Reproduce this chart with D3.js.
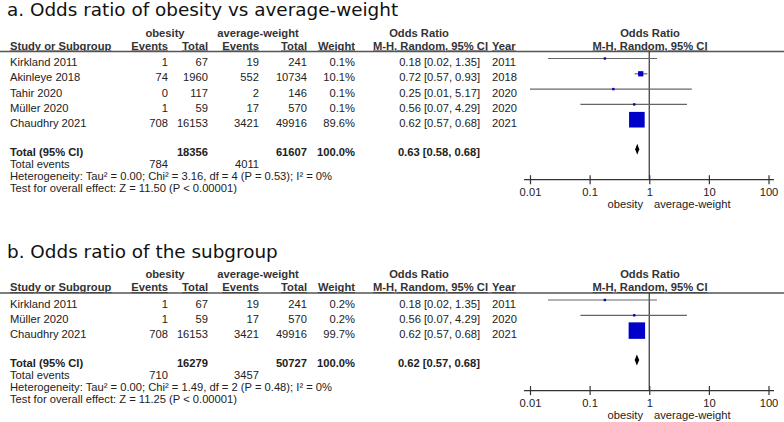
<!DOCTYPE html>
<html>
<head>
<meta charset="utf-8">
<script src="https://cdn.jsdelivr.net/npm/d3@7"></script>
<style>
  body { margin: 0; background: #fff; }
  svg text { font-family: "Liberation Sans", Arial, sans-serif; font-size: 11.2px; fill: #222; }
  .title { font-family: "DejaVu Sans", sans-serif; font-size: 18.4px; fill: #111; }
  .hd { font-weight: bold; fill: #333; }
  .bold { font-weight: bold; }
</style>
</head>
<body>
<div id="chart"></div>
<script>
// ---- panel a data ----
var studiesA = ["Kirkland 2011", "Akinleye 2018", "Tahir 2020", "Müller 2020", "Chaudhry 2021"];
var obEventsA = [1, 74, 0, 1, 708];
var obTotalA = [67, 1960, 117, 59, 16153];
var avEventsA = [19, 552, 2, 17, 3421];
var avTotalA = [241, 10734, 146, 570, 49916];
var weightA = [0.1, 10.1, 0.1, 0.1, 89.6];
var orA = [0.18, 0.72, 0.25, 0.56, 0.62];
var lowA = [0.02, 0.57, 0.01, 0.07, 0.57];
var highA = [1.35, 0.93, 5.17, 4.29, 0.68];
var yearA = [2011, 2018, 2020, 2020, 2021];
var totalA = {obTotal: 18356, avTotal: 61607, or: 0.63, low: 0.58, high: 0.68, obEvents: 784, avEvents: 4011,
  het: "Heterogeneity: Tau\u00b2 = 0.00; Chi\u00b2 = 3.16, df = 4 (P = 0.53); I\u00b2 = 0%",
  test: "Test for overall effect: Z = 11.50 (P < 0.00001)"};

// ---- panel b data ----
var studiesB = ["Kirkland 2011", "Müller 2020", "Chaudhry 2021"];
var obEventsB = [1, 1, 708];
var obTotalB = [67, 59, 16153];
var avEventsB = [19, 17, 3421];
var avTotalB = [241, 570, 49916];
var weightB = [0.2, 0.2, 99.7];
var orB = [0.18, 0.56, 0.62];
var lowB = [0.02, 0.07, 0.57];
var highB = [1.35, 4.29, 0.68];
var yearB = [2011, 2020, 2021];
var totalB = {obTotal: 16279, avTotal: 50727, or: 0.62, low: 0.57, high: 0.68, obEvents: 710, avEvents: 3457,
  het: "Heterogeneity: Tau\u00b2 = 0.00; Chi\u00b2 = 1.49, df = 2 (P = 0.48); I\u00b2 = 0%",
  test: "Test for overall effect: Z = 11.25 (P < 0.00001)"};

var tickVals = [0.01, 0.1, 1, 10, 100];
var tickLabels = ["0.01", "0.1", "1", "10", "100"];

var W = 784, H = 422;
var svg = d3.select("#chart").append("svg").attr("width", W).attr("height", H);

// log scale for the forest plot
var x = d3.scaleLog().domain([0.01, 100]).range([530, 768.5]);
var boxSize = d3.scaleSqrt().domain([0, 100]).range([0, 16.5]);

// column anchors (right aligned)
var col = {obEv: 168, obTot: 208, avEv: 259, avTot: 307, weight: 355, or: 480, year: 492};

function fmtW(w) { return w.toFixed(1) + "%"; }
function fmtCI(o, l, h) { return o.toFixed(2) + " [" + l.toFixed(2) + ", " + h.toFixed(2) + "]"; }

function drawPanel(top, title, rows, total) {
  var g = svg.append("g").attr("transform", "translate(0," + top + ")");

  g.append("text").attr("class", "title").attr("x", 7).attr("y", 16.3).text(title);

  // headers
  var h1 = 36.5, h2 = 49.5;
  g.append("text").attr("class", "hd").attr("x", 165).attr("y", h1).attr("text-anchor", "middle").text("obesity");
  g.append("text").attr("class", "hd").attr("x", 258).attr("y", h1).attr("text-anchor", "middle").text("average-weight");
  g.append("text").attr("class", "hd").attr("x", 419).attr("y", h1).attr("text-anchor", "middle").text("Odds Ratio");
  g.append("text").attr("class", "hd").attr("x", 650).attr("y", h1).attr("text-anchor", "middle").text("Odds Ratio");

  var heads = [
    {t: "Study or Subgroup", x: 10, a: "start"},
    {t: "Events", x: col.obEv, a: "end"},
    {t: "Total", x: col.obTot, a: "end"},
    {t: "Events", x: col.avEv, a: "end"},
    {t: "Total", x: col.avTot, a: "end"},
    {t: "Weight", x: col.weight, a: "end"},
    {t: "M-H, Random, 95% CI", x: 488, a: "end"},
    {t: "Year", x: col.year, a: "start"},
    {t: "M-H, Random, 95% CI", x: 650, a: "middle"}
  ];
  g.selectAll(".h2").data(heads).enter().append("text")
    .attr("class", "hd h2")
    .attr("x", d => d.x).attr("y", h2)
    .attr("text-anchor", d => d.a)
    .style("text-decoration", "underline")
    .text(d => d.t);

  g.append("line").attr("x1", 0).attr("x2", W).attr("y1", 51.5).attr("y2", 51.5)
    .attr("stroke", "#555").attr("stroke-width", 1.3);

  var rowY = function (i) { return 58.5 + i * 15.3; };
  var lastY = rowY(rows.length - 1);
  var totY = lastY + 29.5;
  var axisY = totY + 30.5;

  // null line at OR = 1
  g.append("line").attr("x1", x(1)).attr("x2", x(1)).attr("y1", 51.5).attr("y2", axisY)
    .attr("stroke", "#333").attr("stroke-width", 1.2);

  var r = g.selectAll(".row").data(rows).enter().append("g")
    .attr("class", "row")
    .attr("transform", (d, i) => "translate(0," + rowY(i) + ")");

  var tb0 = 7.5;
  r.append("text").attr("x", 10).attr("y", tb0).text(d => d.study);
  r.append("text").attr("x", col.obEv).attr("y", tb0).attr("text-anchor", "end").text(d => d.obEv);
  r.append("text").attr("x", col.obTot).attr("y", tb0).attr("text-anchor", "end").text(d => d.obTot);
  r.append("text").attr("x", col.avEv).attr("y", tb0).attr("text-anchor", "end").text(d => d.avEv);
  r.append("text").attr("x", col.avTot).attr("y", tb0).attr("text-anchor", "end").text(d => d.avTot);
  r.append("text").attr("x", col.weight).attr("y", tb0).attr("text-anchor", "end").text(d => fmtW(d.w));
  r.append("text").attr("x", col.or).attr("y", tb0).attr("text-anchor", "end").text(d => fmtCI(d.or, d.low, d.high));
  r.append("text").attr("x", col.year).attr("y", tb0).text(d => d.year);

  // CI lines and boxes
  r.append("line")
    .attr("x1", d => x(d.low)).attr("x2", d => x(d.high))
    .attr("y1", 0).attr("y2", 0)
    .attr("stroke", "#666").attr("stroke-width", 1.2);
  r.append("rect")
    .attr("x", d => x(d.or) - Math.max(2.4, boxSize(d.w)) / 2)
    .attr("y", d => -Math.max(2.4, boxSize(d.w)) / 2)
    .attr("width", d => Math.max(2.4, boxSize(d.w)))
    .attr("height", d => Math.max(2.4, boxSize(d.w)))
    .attr("fill", "#0000c8");

  // total row
  var tb = totY + 6.5;
  g.append("text").attr("class", "bold").attr("x", 10).attr("y", tb).text("Total (95% CI)");
  g.append("text").attr("class", "bold").attr("x", col.obTot).attr("y", tb).attr("text-anchor", "end").text(total.obTotal);
  g.append("text").attr("class", "bold").attr("x", col.avTot).attr("y", tb).attr("text-anchor", "end").text(total.avTotal);
  g.append("text").attr("class", "bold").attr("x", col.weight).attr("y", tb).attr("text-anchor", "end").text("100.0%");
  g.append("text").attr("class", "bold").attr("x", col.or).attr("y", tb).attr("text-anchor", "end")
    .text(fmtCI(total.or, total.low, total.high));

  g.append("path")
    .attr("d", "M" + x(total.low) + "," + totY + "L" + x(total.or) + "," + (totY - 5.5) +
      "L" + x(total.high) + "," + totY + "L" + x(total.or) + "," + (totY + 5.5) + "Z")
    .attr("fill", "#000");

  var eb = tb + 12.3;
  g.append("text").attr("x", 10).attr("y", eb).text("Total events");
  g.append("text").attr("x", col.obEv).attr("y", eb).attr("text-anchor", "end").text(total.obEvents);
  g.append("text").attr("x", col.avEv).attr("y", eb).attr("text-anchor", "end").text(total.avEvents);
  g.append("text").attr("x", 10).attr("y", eb + 12.2).text(total.het);
  g.append("text").attr("x", 10).attr("y", eb + 24.4).text(total.test);

  // axis
  var axis = d3.axisBottom(x).tickValues(tickVals)
    .tickFormat((d, i) => tickLabels[i]).tickSize(4.5).tickPadding(3.5);
  var ag = g.append("g").attr("transform", "translate(0," + axisY + ")").call(axis);
  ag.select(".domain").attr("d", "M524,0H774").attr("stroke", "#333").attr("stroke-width", 1.2);
  ag.selectAll(".tick line").attr("y1", -4.5).attr("y2", 4.5).attr("stroke", "#333").attr("stroke-width", 1.2);
  ag.selectAll(".tick text").style("font-family", "Liberation Sans, Arial, sans-serif")
    .style("font-size", "11.2px").attr("fill", "#222");

  g.append("text").attr("x", 643).attr("y", axisY + 28.5).attr("text-anchor", "end").text("obesity");
  g.append("text").attr("x", 654).attr("y", axisY + 28.5).text("average-weight");
}

function makeRows(st, oe, ot, ae, at, w, o, l, h, y) {
  return st.map((s, i) => ({study: s, obEv: oe[i], obTot: ot[i], avEv: ae[i], avTot: at[i],
    w: w[i], or: o[i], low: l[i], high: h[i], year: y[i]}));
}

drawPanel(0, "a. Odds ratio of obesity vs average-weight",
  makeRows(studiesA, obEventsA, obTotalA, avEventsA, avTotalA, weightA, orA, lowA, highA, yearA), totalA);
drawPanel(241.5, "b. Odds ratio of the subgroup",
  makeRows(studiesB, obEventsB, obTotalB, avEventsB, avTotalB, weightB, orB, lowB, highB, yearB), totalB);
</script>
</body>
</html>
